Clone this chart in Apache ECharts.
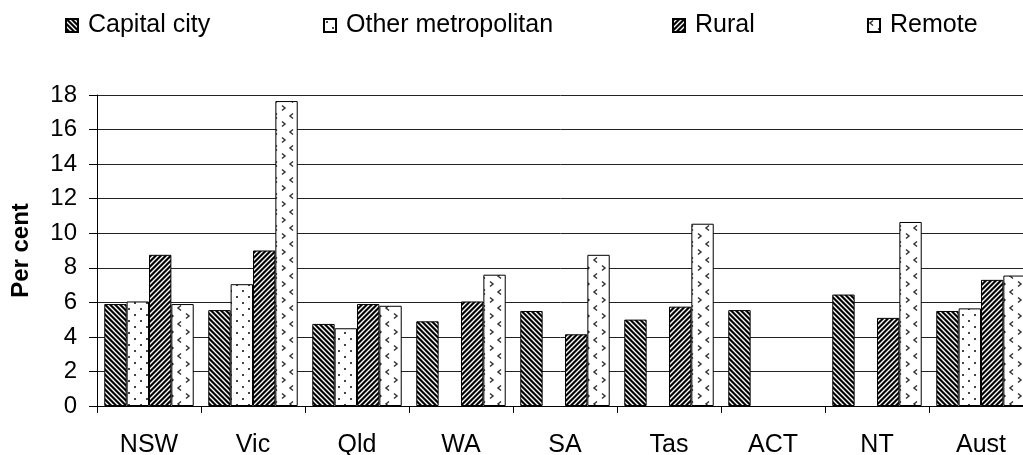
<!DOCTYPE html>
<html><head><meta charset="utf-8">
<script src="https://cdn.jsdelivr.net/npm/echarts@6/dist/echarts.min.js"></script>
<style>html,body{margin:0;padding:0;background:#fff}#c{width:1023px;height:455px}</style>
</head><body><div id="c"></div>
<script>
const categories = ['NSW','Vic','Qld','WA','SA','Tas','ACT','NT','Aust'];
const seriesNames = ['Capital city','Other metropolitan','Rural','Remote'];
const capitalCity = [5.9, 5.55, 4.75, 4.9, 5.5, 5.0, 5.55, 6.45, 5.5];
const otherMetro = [6.05, 7.05, 4.5, null, null, null, null, null, 5.65];
const rural = [8.75, 9.0, 5.9, 6.05, 4.15, 5.75, null, 5.1, 7.3];
const remote = [5.9, 17.65, 5.8, 7.6, 8.75, 10.55, null, 10.65, 7.55];
const yTicks = {min: 0, max: 18, interval: 2};

function mk(w, h, draw){const c=document.createElement('canvas');c.width=w;c.height=h;const x=c.getContext('2d');x.fillStyle='#fff';x.fillRect(0,0,w,h);draw(x,w,h);return c;}
function stripes(dir){return mk(10,10,(x,w,h)=>{const d=x.getImageData(0,0,w,h);for(let j=0;j<h;j++)for(let i=0;i<w;i++){const v=dir>0?((i-j)%5+5)%5:((i+j)%5);const k=(j*w+i)*4;let c=255;if(v<2)c=0;else if(v===2||v===4)c=120;d.data[k]=d.data[k+1]=d.data[k+2]=c;d.data[k+3]=255;}x.putImageData(d,0,0);});}
const patCapital = stripes(1);
const patRural = stripes(-1);
const patOther = mk(12,12,(x)=>{x.fillStyle='#444';x.fillRect(2,2,2,2);x.fillRect(8,8,2,2);});
const patRemote = mk(16,16,(x)=>{x.strokeStyle='#333';x.lineWidth=1.5;x.beginPath();x.moveTo(5,1.5);x.lineTo(2,4);x.lineTo(5,6.5);x.moveTo(10,9.5);x.lineTo(13,12);x.lineTo(10,14.5);x.stroke();});
const patterns=[patCapital,patOther,patRural,patRemote];
const dataArr=[capitalCity,otherMetro,rural,remote];
const legendLeft=[65,323,672,867];

const chart = echarts.init(document.getElementById('c'));
chart.setOption({
  animation:false,
  backgroundColor:'#fff',
  textStyle:{fontFamily:'Liberation Sans, Arial, sans-serif'},
  legend: seriesNames.map((n,i)=>({data:[n],left:legendLeft[i],top:13,padding:0,itemWidth:12,itemHeight:13,itemGap:0,icon:'rect',
    textStyle:{fontSize:25,color:'#000',fontFamily:'Liberation Sans',padding:[0,0,0,5]}})),
  grid:{left:97,width:936,top:95,bottom:49,containLabel:false,outerBoundsMode:'none'},
  xAxis:{type:'category',data:categories,
    axisLine:{lineStyle:{color:'#000',width:1}},
    axisTick:{show:true,length:7,lineStyle:{color:'#000'}},
    axisLabel:{fontSize:25,color:'#000',margin:27,fontFamily:'Liberation Sans'}},
  yAxis:{type:'value',min:yTicks.min,max:yTicks.max,interval:yTicks.interval,
    name:'Per cent',nameLocation:'middle',nameGap:64,nameRotate:90,
    nameTextStyle:{fontSize:24,fontWeight:'bold',color:'#000',fontFamily:'Liberation Sans'},
    axisLine:{show:true,lineStyle:{color:'#000'}},
    axisTick:{show:true,length:8,lineStyle:{color:'#000'}},
    axisLabel:{fontSize:24,color:'#000',margin:20,fontFamily:'Liberation Sans'},
    splitLine:{lineStyle:{color:'#222',width:1}}},
  series: seriesNames.map((n,i)=>({name:n,type:'bar',data:dataArr[i],barGap:'0%',barCategoryGap:'14%',
    itemStyle:{color:{image:patterns[i],repeat:'repeat'},borderColor:'#000',borderWidth:1}}))
});
</script></body></html>
